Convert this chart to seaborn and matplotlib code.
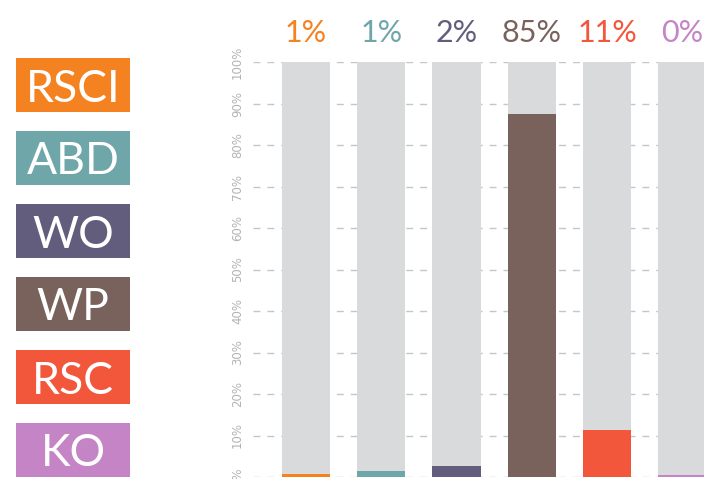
import matplotlib.pyplot as plt
import pandas as pd
import seaborn as sns

CATEGORIES = ["RSCI", "ABD", "WO", "WP", "RSC", "KO"]
SHARES = [0.7, 1.5, 2.6, 87.5, 11.3, 0.5]
SHARE_LABELS = ["1%", "1%", "2%", "85%", "11%", "0%"]
COLORS = ["#f58220", "#6fa6aa", "#625d7c", "#79625c", "#f2573b", "#c584c6"]
Y_TICKS = list(range(0, 101, 10))

sns.set_theme(style="white")
plt.rcParams["font.family"] = ["Lato", "DejaVu Sans"]

df = pd.DataFrame(
    {"category": CATEGORIES, "share": SHARES, "full": 100.0, "one": 1.0}
)
palette = dict(zip(CATEGORIES, COLORS))

W, H = 704, 479
fig = plt.figure(figsize=(W / 100, H / 100), dpi=100)

# Main chart: grey 100% bars with the actual share on top
ax = fig.add_axes([253 / W, 2 / H, 1 - 253 / W, 415 / H])
ax.hlines(Y_TICKS, -0.704, 4.68, colors="#c3c6ca", linestyles=(0, (5, 5)),
          linewidth=1, zorder=1)
sns.barplot(data=df, x="category", y="full", color="#d9dadc", saturation=1,
            width=0.64, linewidth=0, ax=ax, zorder=2)
sns.barplot(data=df, x="category", y="share", hue="category", palette=palette,
            saturation=1, width=0.64, linewidth=0, legend=False, ax=ax,
            zorder=3)
ax.set_xlim(-0.704, 5.286)
ax.set_ylim(0, 100)
ax.set_xticks([])
ax.set_yticks(Y_TICKS, [f"{t}%" for t in Y_TICKS])
ax.tick_params(axis="y", length=0, pad=6.5, labelsize=8.5,
               labelcolor="#b3b3b3")
for lab in ax.get_yticklabels():
    lab.set_rotation(90)
    lab.set_va("center")
    lab.set_family("DejaVu Sans")
ax.set_xlabel("")
ax.set_ylabel("")
sns.despine(ax=ax, left=True, bottom=True)

for i, (lab, c) in enumerate(zip(SHARE_LABELS, COLORS)):
    ax.text(i, 107, lab, ha="center", va="center", color=c, fontsize=22,
            clip_on=False)

# Left: coloured category boxes
lax = fig.add_axes([16 / W, -7.5 / H, 114 / W, 438 / H])
sns.barplot(data=df, y="category", x="one", hue="category", palette=palette,
            saturation=1, width=0.74, linewidth=0, orient="h", legend=False,
            ax=lax)
lax.set_xlim(0, 1)
lax.set_ylim(5.5, -0.5)
lax.axis("off")
for i, cat in enumerate(CATEGORIES):
    lax.text(0.5, i, cat, ha="center", va="center_baseline", color="white",
             fontsize=32)

fig.savefig("out.png", dpi=100)
